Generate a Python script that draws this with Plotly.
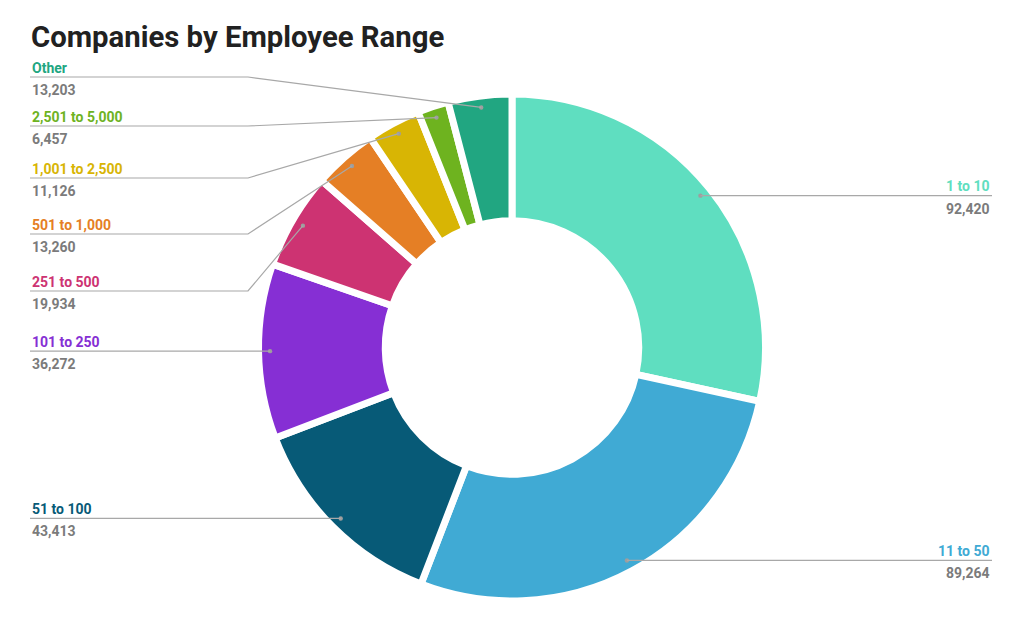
import math
import plotly.graph_objects as go

# ---- data ----
categories = ["1 to 10", "11 to 50", "51 to 100", "101 to 250", "251 to 500",
              "501 to 1,000", "1,001 to 2,500", "2,501 to 5,000", "Other"]
values = [92420, 89264, 43413, 36272, 19934, 13260, 11126, 6457, 13203]
colors = ["#5FDEC0", "#40AAD4", "#075A77", "#862FD4", "#CD3372",
          "#E57F25", "#D8B504", "#6EB31F", "#21A681"]

# ---- layout constants (pixels) ----
W, H = 1024, 633
CX, CY = 512, 347.5
R_OUT = 253.5          # includes half separator width
HOLE = 0.5
DOT_R = 242
LEFT_X, ELBOW_X, RIGHT_X = 30, 248, 992
# label line y for crowded labels (others follow their dot)
label_line_y = {"251 to 500": 291, "501 to 1,000": 234, "1,001 to 2,500": 178,
                "2,501 to 5,000": 126, "Other": 77}

fig = go.Figure()
fig.add_trace(go.Pie(
    labels=categories, values=values, sort=False, direction="clockwise",
    rotation=0, hole=HOLE, textinfo="none", hoverinfo="label+value",
    marker=dict(colors=colors, line=dict(color="white", width=7)),
    domain=dict(x=[(CX - R_OUT) / W, (CX + R_OUT) / W],
                y=[1 - (CY + R_OUT) / H, 1 - (CY - R_OUT) / H]),
    showlegend=False,
))

total = sum(values)
cum = 0
shapes = []
annotations = []
for cat, val, col in zip(categories, values, colors):
    mid = (cum + val / 2) / total * 2 * math.pi
    cum += val
    dx = CX + DOT_R * math.sin(mid)
    dy = CY - DOT_R * math.cos(mid)
    shapes.append(dict(type="circle", xref="x", yref="y",
                       x0=dx - 2.2, x1=dx + 2.2, y0=dy - 2.2, y1=dy + 2.2,
                       fillcolor="#9e9e9e", line=dict(width=0)))
    if math.sin(mid) > 0:  # right side
        ly = dy
        shapes.append(dict(type="path", xref="x", yref="y",
                           path=f"M {dx},{ly} L {RIGHT_X},{ly}",
                           line=dict(color="#a8a8a8", width=1.2)))
        tx, anchor = RIGHT_X, "right"
    else:
        ly = label_line_y.get(cat, dy)
        shapes.append(dict(type="path", xref="x", yref="y",
                           path=f"M {LEFT_X},{ly} L {ELBOW_X},{ly} L {dx},{dy}",
                           line=dict(color="#a8a8a8", width=1.2)))
        tx, anchor = LEFT_X, "left"
    annotations.append(dict(x=tx, y=ly - 9.5, xref="x", yref="y", text=cat,
                            showarrow=False, xanchor=anchor, yanchor="middle",
                            font=dict(family="Roboto", size=14, color=col, weight="bold")))
    annotations.append(dict(x=tx, y=ly + 13, xref="x", yref="y", text=f"{val:,}",
                            showarrow=False, xanchor=anchor, yanchor="middle",
                            font=dict(family="Roboto", size=14, color="#7b7b7b", weight="bold")))

annotations.append(dict(x=29, y=37, xref="x", yref="y", text="Companies by Employee Range",
                        showarrow=False, xanchor="left", yanchor="middle",
                        font=dict(family="Roboto", size=29.3, color="#212121", weight="bold")))

fig.update_layout(
    width=W, height=H, margin=dict(l=0, r=0, t=0, b=0),
    paper_bgcolor="white", plot_bgcolor="white",
    xaxis=dict(range=[0, W], visible=False, fixedrange=True, domain=[0, 1]),
    yaxis=dict(range=[H, 0], visible=False, fixedrange=True, domain=[0, 1]),
    shapes=shapes, annotations=annotations,
)
fig.write_html("out.html", config={"displayModeBar": False},
               post_script="document.body.style.margin='0';document.body.style.overflow='hidden';")
